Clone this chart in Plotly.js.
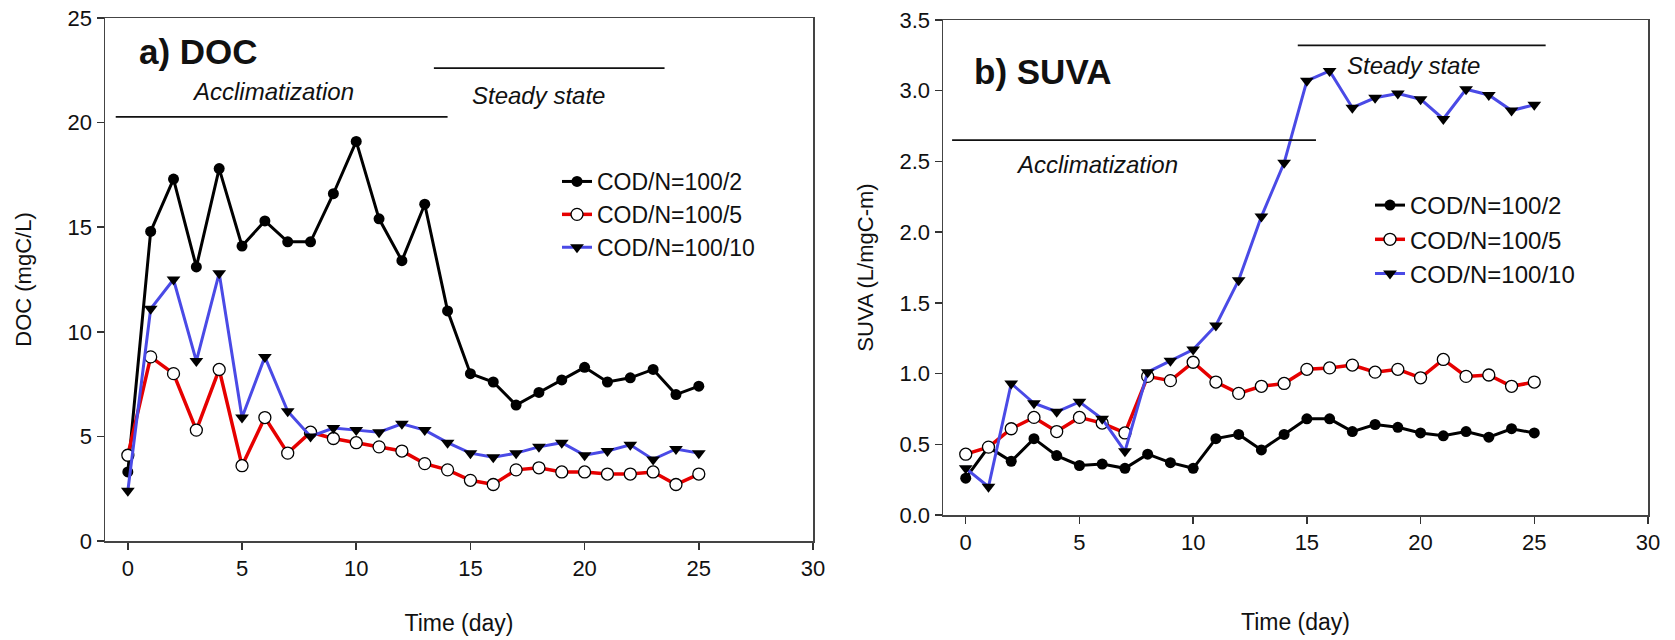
<!DOCTYPE html>
<html>
<head>
<meta charset="utf-8">
<script src="https://cdn.plot.ly/plotly-3.0.1.min.js"></script>
<style>html,body{margin:0;padding:0;background:#fff;}#chart{width:1675px;height:640px;}</style>
</head>
<body>
<div id="chart"></div>
<script>
// ---- data ----
const days = [0,1,2,3,4,5,6,7,8,9,10,11,12,13,14,15,16,17,18,19,20,21,22,23,24,25];
const seriesNames = ["COD/N=100/2", "COD/N=100/5", "COD/N=100/10"];

// a) DOC (mgC/L)
const doc_100_2  = [3.3,14.8,17.3,13.1,17.8,14.1,15.3,14.3,14.3,16.6,19.1,15.4,13.4,16.1,11.0,8.0,7.6,6.5,7.1,7.7,8.3,7.6,7.8,8.2,7.0,7.4];
const doc_100_5  = [4.1,8.8,8.0,5.3,8.2,3.6,5.9,4.2,5.2,4.9,4.7,4.5,4.3,3.7,3.4,2.9,2.7,3.4,3.5,3.3,3.3,3.2,3.2,3.3,2.7,3.2];
const doc_100_10 = [2.4,11.1,12.5,8.6,12.8,5.9,8.8,6.2,5.0,5.4,5.3,5.2,5.6,5.3,4.7,4.2,4.0,4.2,4.5,4.7,4.1,4.3,4.6,3.9,4.4,4.2];

// b) SUVA (L/mgC-m)
const suva_100_2  = [0.26,0.48,0.38,0.54,0.42,0.35,0.36,0.33,0.43,0.37,0.33,0.54,0.57,0.46,0.57,0.68,0.68,0.59,0.64,0.62,0.58,0.56,0.59,0.55,0.61,0.58];
const suva_100_5  = [0.43,0.48,0.61,0.69,0.59,0.69,0.65,0.58,0.98,0.95,1.08,0.94,0.86,0.91,0.93,1.03,1.04,1.06,1.01,1.03,0.97,1.10,0.98,0.99,0.91,0.94];
const suva_100_10 = [0.33,0.20,0.93,0.79,0.73,0.80,0.68,0.45,1.01,1.09,1.17,1.34,1.66,2.11,2.49,3.07,3.14,2.88,2.95,2.98,2.94,2.80,3.01,2.97,2.86,2.90];

const xTicks = [0,5,10,15,20,25,30];

// ---- styles ----
const FONT = "Liberation Sans, Arial, sans-serif";
const styles = [
  {line:{color:"#000000", width:3}, marker:{symbol:"circle", size:11, color:"#000000"}},
  {line:{color:"#e60000", width:3.5}, marker:{symbol:"circle", size:12, color:"#ffffff", line:{color:"#000000", width:1.3}}},
  {line:{color:"#4a4ae6", width:3}, marker:{symbol:"triangle-down", size:12, color:"#000000"}}
];

function mk(y, i, xa, ya, leg) {
  return {
    x: days, y: y, name: seriesNames[i], type: "scatter", mode: "lines+markers",
    xaxis: xa, yaxis: ya, legend: leg,
    line: styles[i].line, marker: styles[i].marker
  };
}

const traces = [
  mk(doc_100_2, 0, "x", "y", "legend"),
  mk(doc_100_5, 1, "x", "y", "legend"),
  mk(doc_100_10, 2, "x", "y", "legend"),
  mk(suva_100_2, 0, "x2", "y2", "legend2"),
  mk(suva_100_5, 1, "x2", "y2", "legend2"),
  mk(suva_100_10, 2, "x2", "y2", "legend2")
];

const W = 1675, H = 640;
const axCommon = {
  showline: true, mirror: true, linecolor: "#444", linewidth: 1.5,
  ticks: "outside", ticklen: 7, tickwidth: 1.5, tickcolor: "#333",
  showgrid: false, zeroline: false,
  tickfont: {family: FONT, size: 22, color: "#111"}
};

const layout = {
  width: W, height: H,
  margin: {l: 0, r: 0, t: 0, b: 0},
  paper_bgcolor: "#ffffff", plot_bgcolor: "#ffffff",
  font: {family: FONT, color: "#111"},
  xaxis: Object.assign({}, axCommon, {
    domain: [105/W, 813/W], range: [-1, 30], tickvals: xTicks, anchor: "y",
    title: {text: "Time (day)", font: {family: FONT, size: 23, color: "#111"}, standoff: 35}
  }),
  yaxis: Object.assign({}, axCommon, {
    domain: [(H-541)/H, (H-18)/H], range: [0, 25], dtick: 5, tick0: 0, anchor: "x",
    title: {text: "DOC (mgC/L)", font: {family: FONT, size: 22, color: "#111"}, standoff: 30}
  }),
  xaxis2: Object.assign({}, axCommon, {
    domain: [943/W, 1648/W], range: [-1, 30], tickvals: xTicks, anchor: "y2",
    title: {text: "Time (day)", font: {family: FONT, size: 23, color: "#111"}, standoff: 60}
  }),
  yaxis2: Object.assign({}, axCommon, {
    domain: [(H-515)/H, (H-20)/H], range: [0, 3.5], dtick: 0.5, tick0: 0, tickformat: ".1f", anchor: "x2",
    title: {text: "SUVA (L/mgC-m)", font: {family: FONT, size: 22, color: "#111"}, standoff: 20}
  }),
  legend: {
    x: 557/W, y: (H-160)/H, xanchor: "left", yanchor: "top",
    bgcolor: "rgba(0,0,0,0)", font: {family: FONT, size: 23, color: "#111"}
  },
  legend2: {
    x: 1370/W, y: (H-183)/H, xanchor: "left", yanchor: "top",
    bgcolor: "rgba(0,0,0,0)", font: {family: FONT, size: 24, color: "#111"}
  },
  shapes: [
    {type: "line", xref: "x", yref: "y", x0: -0.53, x1: 14.0, y0: 20.27, y1: 20.27, line: {color: "#111", width: 1.8}},
    {type: "line", xref: "x", yref: "y", x0: 13.4, x1: 23.5, y0: 22.6, y1: 22.6, line: {color: "#111", width: 1.8}},
    {type: "line", xref: "x2", yref: "y2", x0: -0.6, x1: 15.4, y0: 2.65, y1: 2.65, line: {color: "#111", width: 1.8}},
    {type: "line", xref: "x2", yref: "y2", x0: 14.6, x1: 25.5, y0: 3.32, y1: 3.32, line: {color: "#111", width: 1.8}}
  ],
  annotations: [
    {text: "<b>a) DOC</b>", xref: "x domain", yref: "y domain", x: 0.045, y: 0.935, xanchor: "left", yanchor: "middle", showarrow: false, font: {family: FONT, size: 35, color: "#111"}},
    {text: "<b>b) SUVA</b>", xref: "x2 domain", yref: "y2 domain", x: 0.041, y: 0.895, xanchor: "left", yanchor: "middle", showarrow: false, font: {family: FONT, size: 35, color: "#111"}},
    {text: "<i>Acclimatization</i>", xref: "x", yref: "y", x: 6.34, y: 21.5, xanchor: "center", yanchor: "middle", showarrow: false, font: {family: FONT, size: 24, color: "#111"}},
    {text: "<i>Steady state</i>", xref: "x", yref: "y", x: 18.0, y: 21.3, xanchor: "center", yanchor: "middle", showarrow: false, font: {family: FONT, size: 24, color: "#111"}},
    {text: "<i>Acclimatization</i>", xref: "x2", yref: "y2", x: 5.76, y: 2.48, xanchor: "center", yanchor: "middle", showarrow: false, font: {family: FONT, size: 24, color: "#111"}},
    {text: "<i>Steady state</i>", xref: "x2", yref: "y2", x: 19.7, y: 3.18, xanchor: "center", yanchor: "middle", showarrow: false, font: {family: FONT, size: 24, color: "#111"}}
  ],
  showlegend: true
};

Plotly.newPlot("chart", traces, layout, {displayModeBar: false, staticPlot: true});
</script>
</body>
</html>
